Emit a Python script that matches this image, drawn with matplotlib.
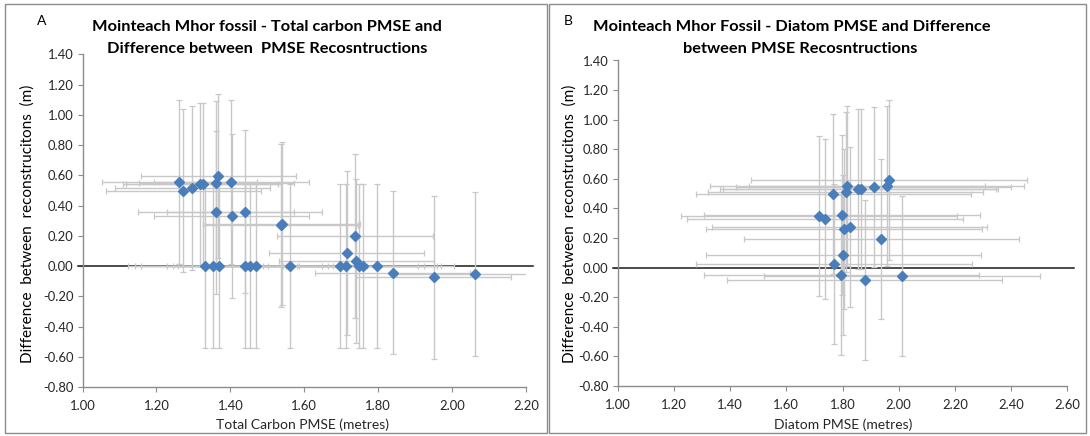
import matplotlib
matplotlib.use("Agg")
import matplotlib.pyplot as plt
from matplotlib.patches import Rectangle
import numpy as np

plt.rcParams['font.family'] = ['Lato', 'DejaVu Sans']

# ---- Panel A data: Total carbon PMSE vs difference ----
carbon_pmse = [1.262, 1.273, 1.297, 1.318, 1.327, 1.367, 1.362, 1.402,
               1.361, 1.404, 1.439, 1.536, 1.540, 1.737, 1.715, 1.741,
               1.332, 1.352, 1.369, 1.439, 1.454, 1.469, 1.561, 1.697,
               1.713, 1.749, 1.760, 1.796,
               1.839, 1.950, 2.062]
carbon_diff = [0.556, 0.500, 0.517, 0.540, 0.540, 0.596, 0.552, 0.556,
               0.355, 0.333, 0.360, 0.269, 0.282, 0.199, 0.088, 0.035,
               0.0, 0.0, 0.0, 0.0, 0.0, 0.0, 0.0, 0.0,
               0.0, 0.0, 0.0, 0.0,
               -0.042, -0.073, -0.053]
carbon_xerr = 0.21
carbon_yerr = 0.54

# ---- Panel B data: Diatom PMSE vs difference ----
diatom_pmse = [1.965, 1.817, 1.855, 1.865, 1.911, 1.957, 1.767, 1.811,
               1.716, 1.738, 1.798, 1.805, 1.826, 1.938, 1.803, 1.770,
               1.796, 1.879, 2.012]
diatom_diff = [0.593, 0.552, 0.534, 0.530, 0.547, 0.552, 0.496, 0.511,
               0.351, 0.329, 0.356, 0.261, 0.277, 0.192, 0.084, 0.027,
               -0.051, -0.081, -0.056]
diatom_xerr = 0.49
diatom_yerr = 0.54

y_ticks = [-0.8, -0.6, -0.4, -0.2, 0.0, 0.2, 0.4, 0.6, 0.8, 1.0, 1.2, 1.4]
xa_ticks = [1.0, 1.2, 1.4, 1.6, 1.8, 2.0, 2.2]
xb_ticks = [1.0, 1.2, 1.4, 1.6, 1.8, 2.0, 2.2, 2.4, 2.6]

W, H = 1090, 436
fig = plt.figure(figsize=(W / 100, H / 100), dpi=100)

def fx(px):
    return px / W

def fy(py):
    return 1 - py / H

# panel borders
for x0, x1 in [(5, 547), (549, 1086)]:
    fig.patches.append(Rectangle((fx(x0), fy(433)), fx(x1 - x0), (433 - 4) / H,
                                 transform=fig.transFigure, fill=False,
                                 edgecolor='#8c8c8c', linewidth=1.0))

axA = fig.add_axes([fx(82.6), fy(387.3), fx(526 - 82.6), (387.3 - 54.3) / H])
axB = fig.add_axes([fx(617.7), fy(386), fx(1067.3 - 617.7), (386 - 60.5) / H])

spine_color = '#8c8c8c'

def style(ax, xticks, xlim):
    ax.set_xlim(*xlim)
    ax.set_ylim(-0.8, 1.4)
    ax.set_xticks(xticks)
    ax.set_yticks(y_ticks)
    ax.set_xticklabels([f"{v:.2f}" for v in xticks])
    ax.set_yticklabels([f"{v:.2f}" for v in y_ticks])
    for s in ['top', 'right']:
        ax.spines[s].set_visible(False)
    for s in ['left', 'bottom']:
        ax.spines[s].set_color(spine_color)
        ax.spines[s].set_linewidth(1.0)
    ax.tick_params(axis='both', direction='out', length=3.5, width=0.8,
                   color=spine_color, labelcolor='#262626', labelsize=9.4)
    ax.tick_params(axis='x', pad=6)
    ax.tick_params(axis='y', pad=3)
    ax.plot([-0.01, 1.015], [0, 0], color='#1a1a1a', linewidth=1.1,
            transform=ax.get_yaxis_transform(), clip_on=False, zorder=2)

def draw(ax, xs, ys, xerr, yerr):
    ax.errorbar(xs, ys, xerr=xerr, yerr=yerr, fmt='none',
                ecolor='#c8c8c8', elinewidth=1.0, capsize=2.2,
                capthick=0.9, zorder=3)
    ax.plot(xs, ys, linestyle='none', marker='D', markersize=5.4,
            markerfacecolor='#4a7ebb', markeredgecolor='#4a7ebb',
            zorder=4)

style(axA, xa_ticks, (1.0, 2.2))
style(axB, xb_ticks, (1.0, 2.6))
draw(axA, carbon_pmse, carbon_diff, carbon_xerr, carbon_yerr)
draw(axB, diatom_pmse, diatom_diff, diatom_xerr, diatom_yerr)

# titles
tfs = 11.8
fig.text(fx(267), fy(27), "Mointeach Mhor fossil - Total carbon PMSE and",
         ha='center', va='center', fontsize=tfs, fontweight='bold', color='#000000')
fig.text(fx(267), fy(49), "Difference between  PMSE Recosntructions",
         ha='center', va='center', fontsize=tfs, fontweight='bold', color='#000000')
fig.text(fx(792), fy(27), "Mointeach Mhor Fossil - Diatom PMSE and Difference",
         ha='center', va='center', fontsize=tfs, fontweight='bold', color='#000000')
fig.text(fx(800), fy(49), "between PMSE Recosntructions",
         ha='center', va='center', fontsize=tfs, fontweight='bold', color='#000000')

fig.text(fx(42), fy(21), "A", ha='center', va='center', fontsize=10, color='#000000')
fig.text(fx(568), fy(21), "B", ha='center', va='center', fontsize=10, color='#000000')

# axis labels
for xpos in (28, 570):
    fig.text(fx(xpos), fy(224), "Difference  between  reconstrucitons  (m)",
             rotation=90, ha='center', va='center', fontsize=11, color='#000000')
fig.text(fx(303), fy(425), "Total Carbon PMSE (metres)", ha='center', va='center',
         fontsize=10, color='#262626')
fig.text(fx(843), fy(425), "Diatom PMSE (metres)", ha='center', va='center',
         fontsize=10, color='#262626')

fig.savefig("out.png", dpi=100)
